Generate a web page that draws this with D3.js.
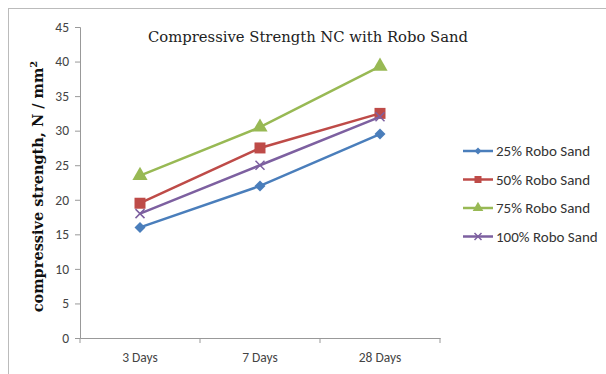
<!DOCTYPE html>
<html>
<head>
<meta charset="utf-8">
<script src="https://cdn.jsdelivr.net/npm/d3@7"></script>
<style>
  body { margin: 0; background: #fff; }
</style>
</head>
<body>
<div id="container"></div>
<script>
/* CONSTANTS AND GLOBALS */
const width = 606
const height = 374
const margin = { top: 27, bottom: 36, left: 80, right: 166 }
const sansFont = "Carlito, 'Liberation Sans', sans-serif"

// data
const categories = ["3 Days", "7 Days", "28 Days"]
const seriesNames = ["25% Robo Sand", "50% Robo Sand", "75% Robo Sand", "100% Robo Sand"]
const sand25 = [16, 22, 29.5]
const sand50 = [19.5, 27.5, 32.5]
const sand75 = [23.5, 30.5, 39.3]
const sand100 = [18, 25, 32]
const yTicks = [0, 5, 10, 15, 20, 25, 30, 35, 40, 45]

const colors = ["#4a7ebb", "#be4b48", "#98b954", "#7d60a0"]
const symbols = ["diamond", "square", "triangle", "cross"]

const series = [sand25, sand50, sand75, sand100].map((vals, i) => ({
  name: seriesNames[i],
  values: vals.map((v, j) => ({ cat: categories[j], value: v }))
}))

// CREATE SVG ELEMENT
const svg = d3.select("#container")
  .append("svg")
  .attr("width", width)
  .attr("height", height)

// outer border
svg.append("rect")
  .attr("x", 8.5).attr("y", 8.5)
  .attr("width", width + 10).attr("height", height + 10)
  .attr("fill", "none").attr("stroke", "#bbb")

// SCALES
const xScale = d3.scaleBand()
  .domain(categories)
  .range([margin.left, width - margin.right])

const yScale = d3.scaleLinear()
  .domain([0, 45])
  .range([height - margin.bottom, margin.top])

// AXES
const xAxis = d3.axisBottom(xScale).tickSize(0).tickPadding(14)
const xAxisGroup = svg.append("g")
  .attr("transform", `translate(0, ${yScale(0)})`)
  .call(xAxis)
xAxisGroup.select(".domain").attr("stroke", "#999")
// boundary tick marks between categories
xAxisGroup.selectAll(".bnd")
  .data(categories.concat(["end"]))
  .join("line")
  .attr("x1", (d, i) => i < categories.length ? xScale(d) : xScale.range()[1])
  .attr("x2", (d, i) => i < categories.length ? xScale(d) : xScale.range()[1])
  .attr("y1", 0).attr("y2", 5)
  .attr("stroke", "#999")

const yAxis = d3.axisLeft(yScale).tickValues(yTicks).tickSize(5).tickPadding(6)
const yAxisGroup = svg.append("g")
  .attr("transform", `translate(${margin.left}, 0)`)
  .call(yAxis)
yAxisGroup.select(".domain").attr("stroke", "#999")
yAxisGroup.selectAll(".tick line").attr("stroke", "#999")

svg.selectAll(".tick text")
  .attr("font-family", sansFont)
  .attr("font-size", 13.5)
  .attr("fill", "#444")

// Y LABEL
svg.append("text")
  .attr("transform", `translate(43, ${(yScale(0) + yScale(45)) / 2 + 4}) rotate(-90)`)
  .attr("text-anchor", "middle")
  .attr("font-family", "'DejaVu Serif', serif")
  .attr("font-weight", "bold")
  .attr("font-size", 14.5)
  .attr("fill", "#111")
  .html('compressive strength, N / mm<tspan dy="-6" font-size="10">2</tspan>')

// TITLE
svg.append("text")
  .attr("x", 308)
  .attr("y", 42)
  .attr("text-anchor", "middle")
  .attr("font-family", "'DejaVu Serif', serif")
  .attr("font-size", 14.8)
  .attr("fill", "#222")
  .text("Compressive Strength NC with Robo Sand")

// LINE GENERATOR
const line = d3.line()
  .x(d => xScale(d.cat) + xScale.bandwidth() / 2)
  .y(d => yScale(d.value))

function marker(sel, i, size) {
  const s = size
  if (symbols[i] === "cross") {
    sel.append("path")
      .attr("d", `M${-s},${-s}L${s},${s}M${-s},${s}L${s},${-s}`)
      .attr("stroke", colors[i]).attr("stroke-width", 1.5).attr("fill", "none")
  } else if (symbols[i] === "diamond") {
    sel.append("path")
      .attr("d", `M0,${-s}L${s},0L0,${s}L${-s},0Z`)
      .attr("fill", colors[i])
  } else {
    const type = symbols[i] === "square" ? d3.symbolSquare : d3.symbolTriangle
    sel.append("path")
      .attr("d", d3.symbol().type(type).size(s * s * 4)())
      .attr("fill", colors[i])
  }
}

series.forEach((s, i) => {
  svg.append("path")
    .datum(s.values)
    .attr("fill", "none")
    .attr("stroke", colors[i])
    .attr("stroke-width", 2.5)
    .attr("d", line)

  svg.selectAll(".pt" + i)
    .data(s.values)
    .join("g")
    .attr("transform", d => `translate(${xScale(d.cat) + xScale.bandwidth() / 2}, ${yScale(d.value)})`)
    .each(function () { marker(d3.select(this), i, [5.5, 5.5, 5, 4.5][i]) })
})

// LEGEND
const legend = svg.append("g").attr("transform", "translate(463, 151)")
series.forEach((s, i) => {
  const g = legend.append("g").attr("transform", `translate(0, ${i * 28.5})`)
  g.append("line").attr("x1", 0).attr("x2", 30).attr("y1", 0).attr("y2", 0)
    .attr("stroke", colors[i]).attr("stroke-width", 2.5)
  const m = g.append("g").attr("transform", "translate(15, 0)")
  marker(m, i, 3.5)
  g.append("text")
    .attr("x", 33).attr("y", 5)
    .attr("font-family", sansFont)
    .attr("font-size", 15)
    .attr("fill", "#333")
    .text(s.name)
})
</script>
</body>
</html>
